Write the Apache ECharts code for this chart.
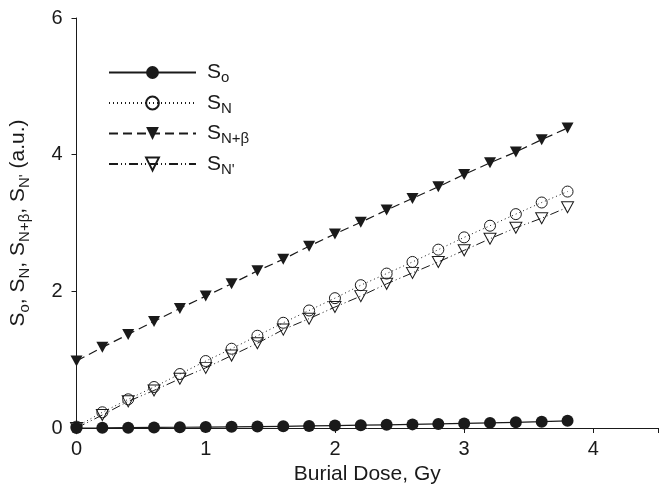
<!DOCTYPE html>
<html>
<head>
<meta charset="utf-8">
<script src="https://cdn.jsdelivr.net/npm/echarts@6/dist/echarts.min.js"></script>
<style>
  html, body { margin: 0; padding: 0; background: #fff; }
  #chart { width: 661px; height: 496px; }
</style>
</head>
<body>
<div id="chart"></div>
<script>
// Burial dose (Gy) at which each signal was evaluated
const dose = [0, 0.2, 0.4, 0.6, 0.8, 1.0, 1.2, 1.4, 1.6, 1.8, 2.0, 2.2, 2.4, 2.6, 2.8, 3.0, 3.2, 3.4, 3.6, 3.8];

// Signals in arbitrary units
const sO     = [0, 0.002, 0.005, 0.008, 0.011, 0.014, 0.017, 0.021, 0.025, 0.03, 0.035, 0.041, 0.047, 0.053, 0.06, 0.067, 0.075, 0.083, 0.092, 0.105];
const sN     = [0.02, 0.23, 0.42, 0.60, 0.79, 0.98, 1.16, 1.35, 1.54, 1.72, 1.90, 2.09, 2.26, 2.43, 2.61, 2.79, 2.96, 3.13, 3.30, 3.46];
const sNBeta = [0.98, 1.18, 1.37, 1.56, 1.75, 1.93, 2.11, 2.30, 2.47, 2.66, 2.84, 3.01, 3.19, 3.36, 3.53, 3.71, 3.88, 4.04, 4.22, 4.39];
const sNp    = [0.0, 0.19, 0.39, 0.55, 0.72, 0.88, 1.06, 1.24, 1.44, 1.60, 1.77, 1.93, 2.11, 2.27, 2.43, 2.60, 2.77, 2.93, 3.07, 3.23];

// Axis ticks
const xTicks = [0, 1, 2, 3, 4];
const yTicks = [0, 2, 4, 6];

const INK = '#1a1a1a';
const FONT = 'Liberation Sans, Arial, sans-serif';

const pairs = (ys) => dose.map((x, i) => [x, ys[i]]);

// Rich-text styles for subscripted labels
const richLegend = {
  m: { fontSize: 21, fontFamily: FONT, color: INK, lineHeight: 26, verticalAlign: 'middle' },
  s: { fontSize: 15, fontFamily: FONT, color: INK, lineHeight: 26, verticalAlign: 'bottom' }
};
const richAxis = {
  m: { fontSize: 21, fontFamily: FONT, color: INK, lineHeight: 28, verticalAlign: 'middle' },
  s: { fontSize: 15, fontFamily: FONT, color: INK, lineHeight: 28, verticalAlign: 'bottom' }
};

const legendText = {
  'So': '{m|S}{s|o}',
  'SN': '{m|S}{s|N}',
  'SNb': '{m|S}{s|N+β}',
  'SNp': "{m|S}{s|N'}"
};

const chart = echarts.init(document.getElementById('chart'), null, { renderer: 'canvas' });

chart.setOption({
  animation: false,
  backgroundColor: '#fff',
  grid: { left: 74, top: 18, width: 589.5, bottom: 68 },
  legend: {
    orient: 'vertical',
    left: 103,
    top: 57,
    itemWidth: 87,
    itemHeight: 16,
    itemGap: 7,
    formatter: (name) => legendText[name],
    textStyle: { rich: richLegend, padding: [0, 0, 0, 6] },
    data: ['So', 'SN', 'SNb', 'SNp']
  },
  xAxis: {
    type: 'value',
    min: 0,
    max: 4.5,
    interval: 1,
    name: 'Burial Dose, Gy',
    nameLocation: 'middle',
    nameGap: 33,
    nameTextStyle: { fontSize: 21, fontFamily: FONT, color: INK },
    axisLine: { lineStyle: { color: INK, width: 1 } },
    axisTick: { show: true, inside: false, length: 5, lineStyle: { color: INK } },
    axisLabel: {
      fontSize: 20, fontFamily: FONT, color: INK, margin: 11,
      formatter: (v) => (xTicks.includes(v) ? String(v) : '')
    },
    splitLine: { show: false }
  },
  yAxis: {
    type: 'value',
    min: 0,
    max: 6,
    interval: 2,
    name: '{m|S}{s|o}{m|, S}{s|N}{m|, S}{s|N+β}{m|, S}{s|N\'}{m| (a.u.)}',
    nameLocation: 'middle',
    nameRotate: 90,
    nameGap: 44,
    nameTextStyle: { rich: richAxis },
    axisLine: { show: true, lineStyle: { color: INK, width: 1 } },
    axisTick: { show: true, inside: false, length: 5, lineStyle: { color: INK } },
    axisLabel: {
      fontSize: 20, fontFamily: FONT, color: INK, margin: 14,
      formatter: (v) => (yTicks.includes(v) ? String(v) : '')
    },
    splitLine: { show: false }
  },
  series: [
    {
      name: 'So', type: 'line', data: pairs(sO),
      symbol: 'circle', symbolSize: 12,
      itemStyle: { color: INK },
      lineStyle: { color: INK, width: 1.2, type: 'solid' },
      z: 5
    },
    {
      name: 'SN', type: 'line', data: pairs(sN),
      symbol: 'circle', symbolSize: 11,
      itemStyle: { color: 'rgba(255,255,255,0)', borderColor: INK, borderWidth: 1 },
      lineStyle: { color: INK, width: 1, type: [1, 3] },
      z: 3
    },
    {
      name: 'SNb', type: 'line', data: pairs(sNBeta),
      symbol: 'triangle', symbolRotate: 180, symbolSize: [12, 11],
      itemStyle: { color: INK },
      lineStyle: { color: INK, width: 1.2, type: [9, 5] },
      z: 4
    },
    {
      name: 'SNp', type: 'line', data: pairs(sNp),
      symbol: 'triangle', symbolRotate: 180, symbolSize: [12, 11],
      itemStyle: { color: 'rgba(255,255,255,0)', borderColor: INK, borderWidth: 1 },
      lineStyle: { color: INK, width: 1, type: [9, 3, 1, 3, 1, 3] },
      z: 4
    }
  ]
});
</script>
</body>
</html>
